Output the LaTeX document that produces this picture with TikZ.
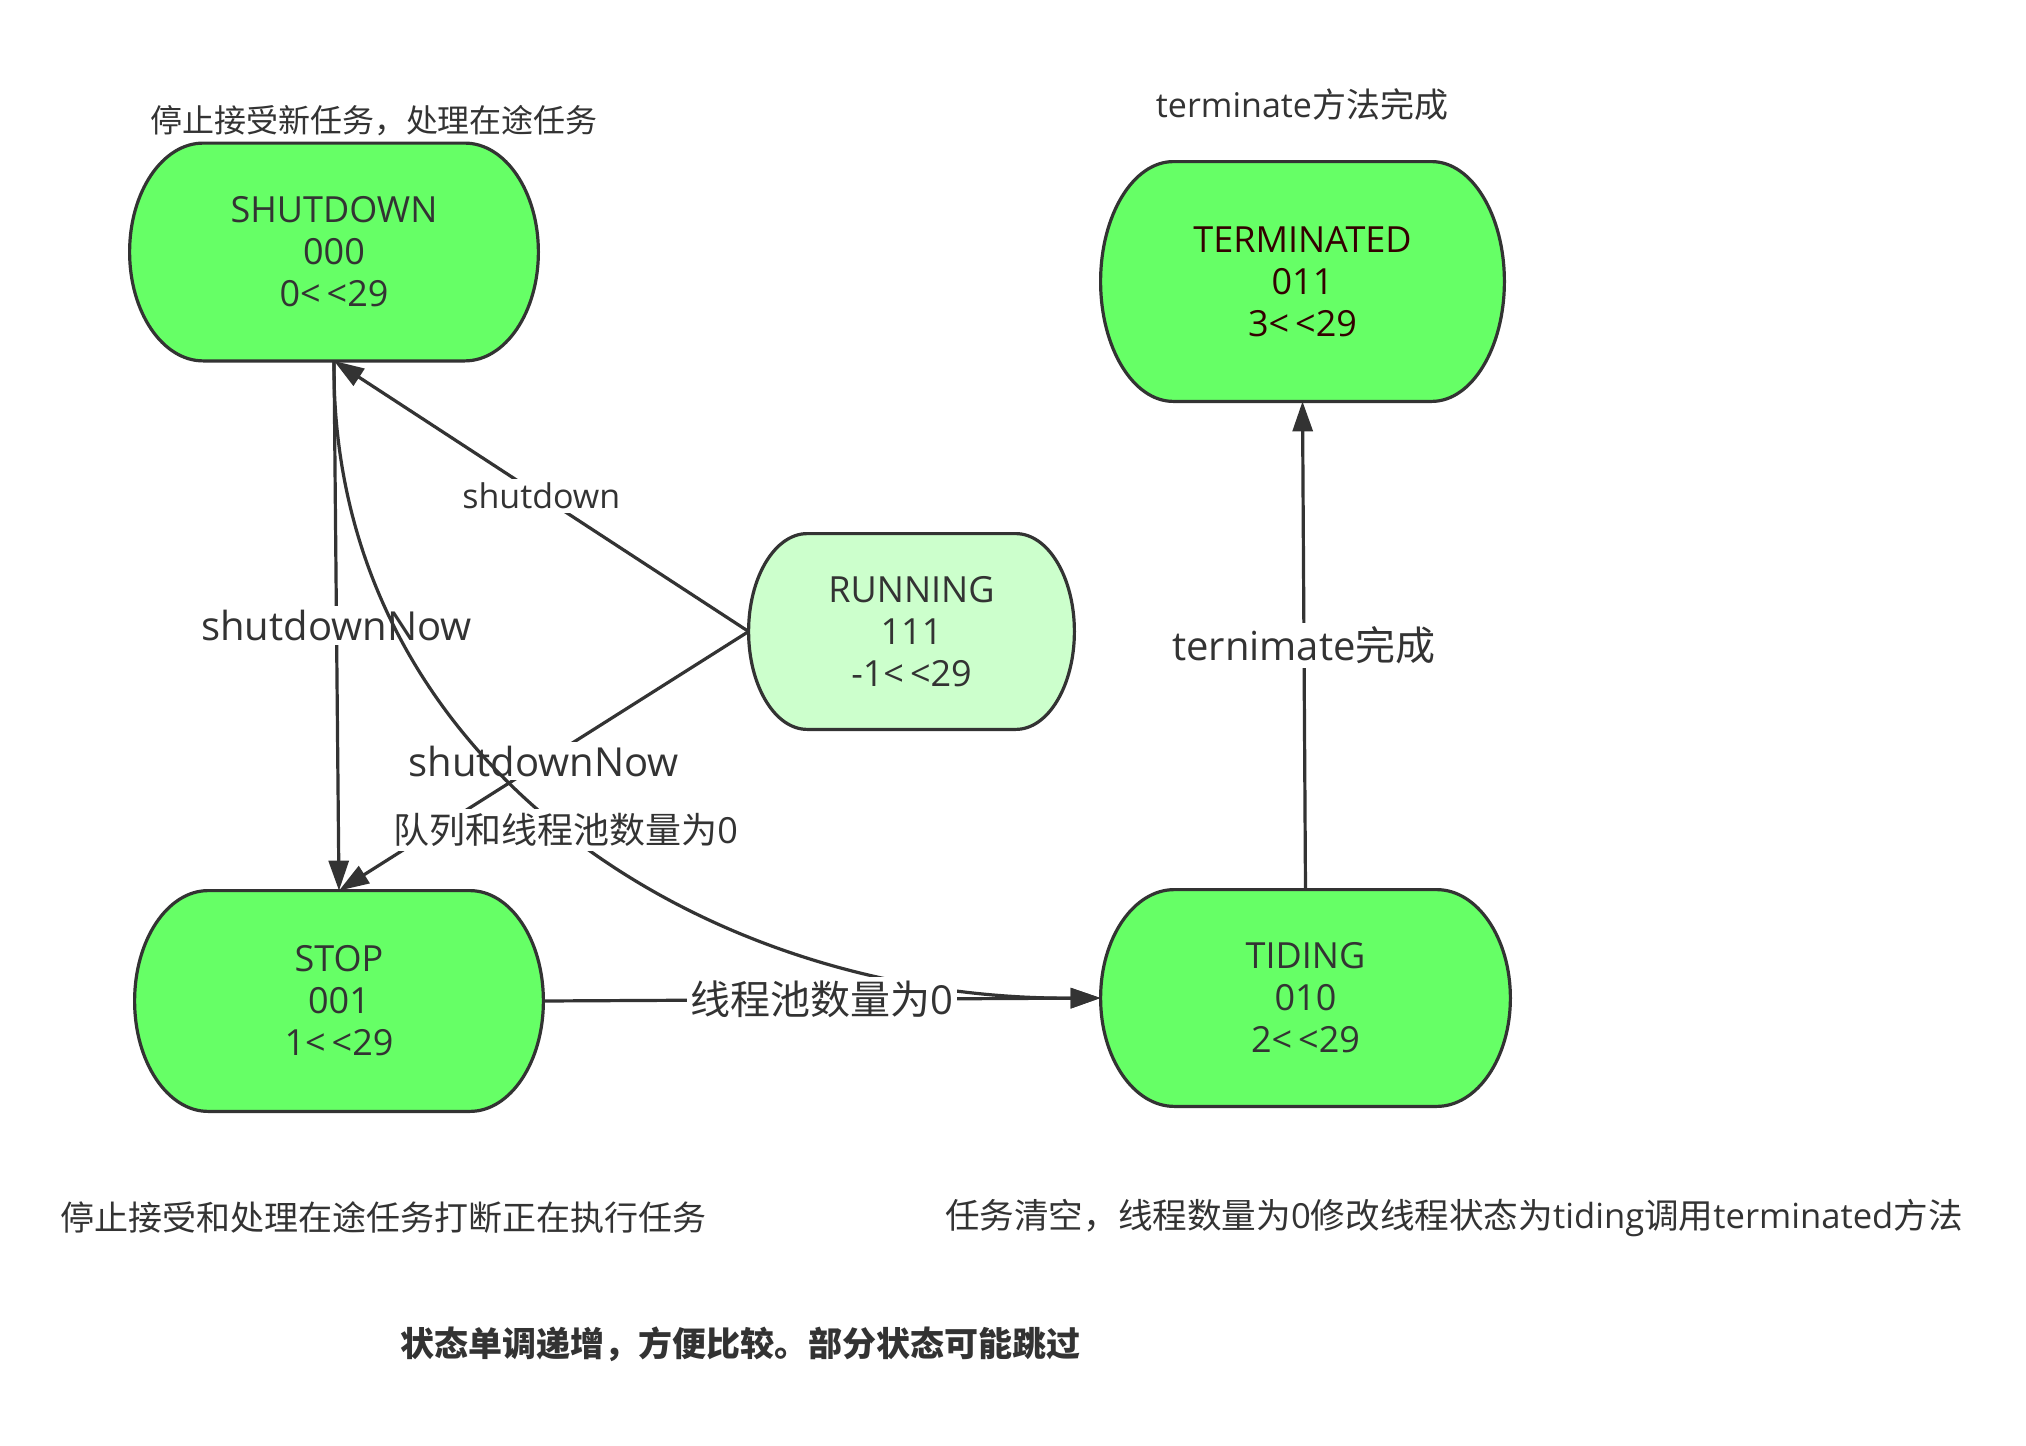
\documentclass[tikz,border=0pt]{standalone}
\usepackage{fontspec}
\setmainfont{Open Sans}
\newfontfamily\cjk{Noto Sans CJK SC}
\usetikzlibrary{arrows.meta,backgrounds,calc}

\definecolor{stategreen}{HTML}{66FF66}
\definecolor{runninggreen}{HTML}{CCFFCC}
\definecolor{ink}{HTML}{333333}
\definecolor{termink}{HTML}{330000}

% outline of a state: straight top and bottom, half ellipses at the sides
\newcommand\stateoutline[2]{%
  \path[draw=ink, line width=1.6pt, fill=#2]
    let \p1 = (#1.north west), \p2 = (#1.south east),
        \n1 = {0.18*(\x2-\x1)}, \n2 = {(\y1-\y2)/2} in
    (\x1+\n1, \y1) -- (\x2-\n1, \y1)
    arc[start angle=90, end angle=-90, x radius={\n1*1pt}, y radius={\n2*1pt}]
    -- (\x1+\n1, \y2)
    arc[start angle=270, end angle=90, x radius={\n1*1pt}, y radius={\n2*1pt}]
    -- cycle;
}

\begin{document}
\begin{tikzpicture}[x=0.5pt, y=-0.5pt, color=ink,
    statebox/.style={inner sep=0pt, align=center, font=\fontsize{18pt}{21pt}\selectfont},
    flow/.style={line width=1.6pt, -{Triangle[length=15pt, width=10pt]}},
    lbl/.style={fill=white, inner sep=2pt},
    note/.style={inner sep=0pt, font=\fontsize{16pt}{19pt}\selectfont}]
    \useasboundingbox (0,0) rectangle (2026,1446);

    % states
    \node[statebox, minimum width=204pt, minimum height=108.5pt] (shutdown) at (334,252) {SHUTDOWN\\000\\0<\,<29};
    \node[statebox, minimum width=201.5pt, minimum height=119.5pt, text=termink] (terminated) at (1302.5,281.5) {TERMINATED\\011\\3<\,<29};
    \node[statebox, minimum width=162.5pt, minimum height=97.5pt] (running) at (911.5,631.5) {RUNNING\\111\\-1<\,<29};
    \node[statebox, minimum width=204pt, minimum height=110pt] (stop) at (339,1001) {STOP\\001\\1<\,<29};
    \node[statebox, minimum width=204.5pt, minimum height=108pt] (tiding) at (1305.5,998) {TIDING\\010\\2<\,<29};

    \begin{scope}[on background layer]
        \fill[white] (0,0) rectangle (2026,1446);
        \stateoutline{shutdown}{stategreen}
        \stateoutline{terminated}{stategreen}
        \stateoutline{running}{runninggreen}
        \stateoutline{stop}{stategreen}
        \stateoutline{tiding}{stategreen}
    \end{scope}

    % transitions
    \draw[flow] (running.west) -- node[lbl, font=\fontsize{17pt}{20pt}\selectfont] {shutdown} (shutdown.south);
    \draw[flow] (running.west) -- node[lbl, font=\fontsize{20pt}{24pt}\selectfont] {shutdownNow} (stop.north);
    \draw[flow] (shutdown.south) -- node[lbl, font=\fontsize{20pt}{24pt}\selectfont] {shutdownNow} (stop.north);
    \draw[flow] (shutdown.south) .. controls (330,760) and (700,1000) .. (tiding.west)
        node[lbl, pos=0.5, font=\fontsize{18pt}{22pt}\selectfont] {{\cjk 队列和线程池数量为}0};
    \draw[flow] (stop.east) -- node[lbl, font=\fontsize{20pt}{24pt}\selectfont] {{\cjk 线程池数量为}0} (tiding.west);
    \draw[flow] (tiding.north) -- node[lbl, font=\fontsize{20pt}{24pt}\selectfont] {ternimate{\cjk 完成}} (terminated.south);

    % notes
    \node[note] (shutnote) at (374,121) {\cjk 停止接受新任务，处理在途任务};
    \node[note, font=\fontsize{17pt}{20pt}\selectfont] (termnote) at (1302,105) {terminate{\cjk 方法完成}};
    \node[note, anchor=west, font=\fontsize{17pt}{20pt}\selectfont] (stopnote) at (60,1218) {\cjk 停止接受和处理在途任务打断正在执行任务};
    \node[note, anchor=east, font=\fontsize{17.3pt}{20pt}\selectfont] (tidnote) at (1963,1218) {{\cjk 任务清空，线程数量为}0{\cjk 修改线程状态为}tiding{\cjk 调用}terminated{\cjk 方法}};
    \node[note, anchor=west, font=\fontsize{17pt}{20pt}\selectfont\bfseries] (summary) at (400,1344) {\cjk 状态单调递增，方便比较。部分状态可能跳过};
\end{tikzpicture}
\end{document}
